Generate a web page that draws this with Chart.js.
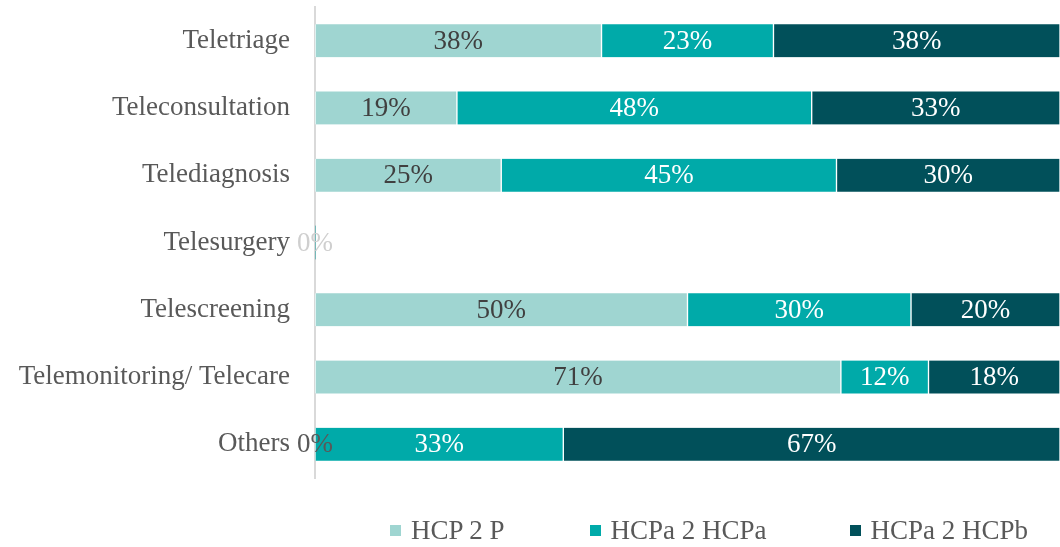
<!DOCTYPE html>
<html lang="en">
  <head>
    <meta charset="UTF-8" />
    <title>Telemedicine services by type of interaction</title>
    <script src="https://cdn.jsdelivr.net/npm/chart.js@4/dist/chart.umd.min.js"></script>
    <style>
      html,
      body {
        margin: 0;
        padding: 0;
        background: #fff;
      }
      #wrap {
        position: relative;
        width: 1060px;
        height: 547px;
      }
      #legend {
        position: absolute;
        left: 390px;
        top: 515px;
        display: flex;
        font-family: "Liberation Serif", serif;
        font-size: 27px;
        color: #595959;
        white-space: nowrap;
      }
      #legend span.item {
        display: flex;
        align-items: center;
      }
      #legend span.box {
        display: inline-block;
        width: 11px;
        height: 11px;
        margin-right: 10px;
      }
    </style>
  </head>
  <body>
    <div id="wrap">
      <canvas id="serviceChart" width="1060" height="547"></canvas>
      <div id="legend"></div>
    </div>
    <script>
      const categories = [
        "Teletriage",
        "Teleconsultation",
        "Telediagnosis",
        "Telesurgery",
        "Telescreening",
        "Telemonitoring/ Telecare",
        "Others",
      ];
      const seriesNames = ["HCP 2 P", "HCPa 2 HCPa", "HCPa 2 HCPb"];
      // shares in percent, rounded labels come out as 38/23/38 etc.
      const hcpToPatient = [38.46, 19.05, 25, 0, 50, 70.59, 0];
      const hcpaToHcpa = [23.08, 47.62, 45, 0, 30, 11.76, 33.33];
      const hcpaToHcpb = [38.46, 33.33, 30, 0, 20, 17.65, 66.67];

      const colors = ["#9fd5d1", "#00aaa9", "#01505a"];
      const labelColors = ["#404040", "#ffffff", "#ffffff"];
      const fontFamily = "'Liberation Serif', serif";

      const barLabels = {
        id: "barLabels",
        afterDatasetsDraw(chart) {
          const ctx = chart.ctx;
          ctx.save();
          ctx.font = "27px " + fontFamily;
          ctx.textAlign = "center";
          ctx.textBaseline = "middle";
          chart.data.datasets.forEach(function (ds, di) {
            const meta = chart.getDatasetMeta(di);
            meta.data.forEach(function (bar, i) {
              const v = ds.data[i];
              let x = (bar.x + bar.base) / 2;
              if (v === 0) {
                // only one "0%" per row, sitting on the axis
                if (di !== 0) return;
                x = bar.base;
                const total = chart.data.datasets.reduce((s, d) => s + d.data[i], 0);
                ctx.fillStyle = total === 0 ? "#cfcfcf" : "#595959";
              } else {
                ctx.fillStyle = labelColors[di];
              }
              ctx.fillText(Math.round(v) + "%", x, bar.y + 1);
            });
          });
          ctx.restore();
        },
      };

      const allSeries = [hcpToPatient, hcpaToHcpa, hcpaToHcpb];
      const data = {
        labels: categories,
        datasets: allSeries.map(function (values, i) {
          return {
            label: seriesNames[i],
            data: values,
            backgroundColor: colors[i],
            borderColor: "#ffffff",
            borderWidth: { left: 1, right: 1, top: 0, bottom: 0 },
            borderSkipped: false,
            barThickness: 33,
          };
        }),
      };

      const config = {
        type: "bar",
        data: data,
        options: {
          indexAxis: "y",
          responsive: false,
          animation: false,
          layout: { padding: { top: 7, bottom: 69, right: 0, left: 0 } },
          plugins: {
            legend: { display: false },
            tooltip: { enabled: false },
          },
          scales: {
            x: {
              stacked: true,
              min: 0,
              max: 100,
              display: false,
            },
            y: {
              stacked: true,
              grid: { display: false, drawTicks: false },
              border: { display: true, color: "#d9d9d9", width: 2 },
              ticks: {
                color: "#595959",
                padding: 25,
                font: { family: fontFamily, size: 27 },
              },
              afterFit(scale) {
                scale.width = 315;
                // labels must not push the plot down
                scale.paddingTop = 0;
                scale.paddingBottom = 0;
              },
            },
          },
        },
        plugins: [barLabels],
      };

      new Chart(document.getElementById("serviceChart"), config);

      // legend row under the plot
      const legend = document.getElementById("legend");
      const gaps = [0, 85, 83];
      seriesNames.forEach(function (name, i) {
        const item = document.createElement("span");
        item.className = "item";
        item.style.marginLeft = gaps[i] + "px";
        const box = document.createElement("span");
        box.className = "box";
        box.style.background = colors[i];
        item.appendChild(box);
        item.appendChild(document.createTextNode(name));
        legend.appendChild(item);
      });
    </script>
  </body>
</html>
